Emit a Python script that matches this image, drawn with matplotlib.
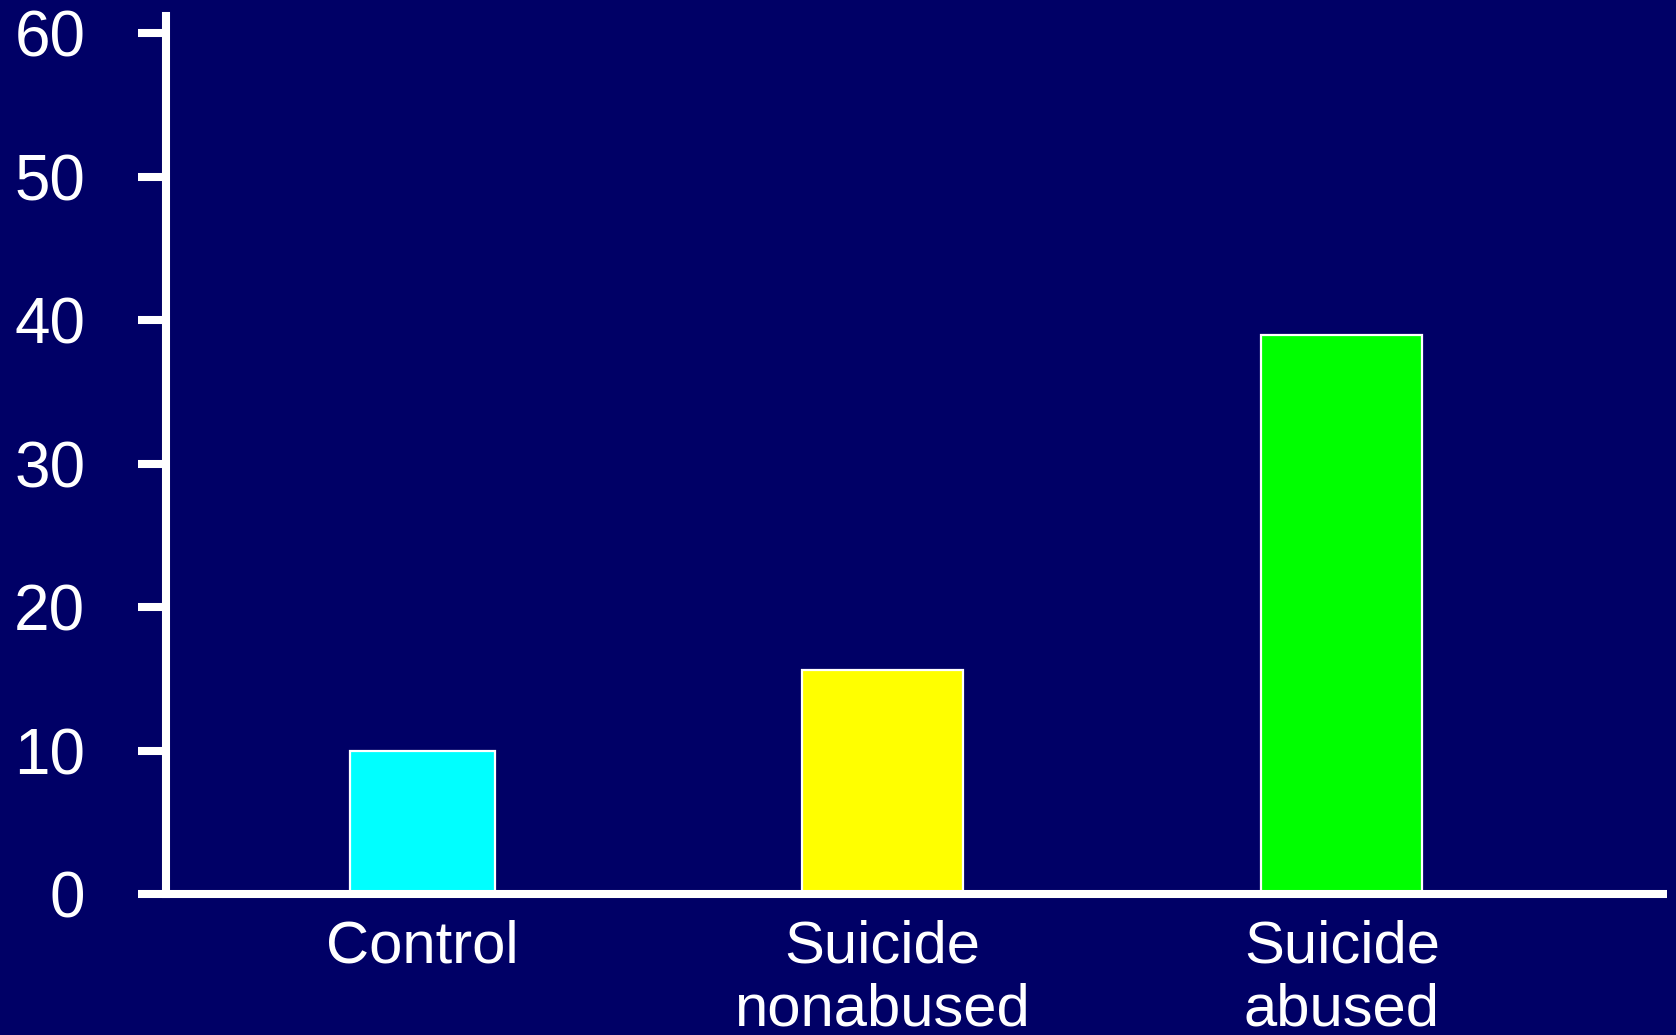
import matplotlib
matplotlib.use("Agg")
import matplotlib.pyplot as plt

# Data
categories = ["Control", "Suicide\nnonabused", "Suicide\nabused"]
values = [10.0, 15.6, 39.0]
yticks = [0, 10, 20, 30, 40, 50, 60]

# Styling
bar_colors = ["#00FFFF", "#FFFF00", "#00FF00"]
bar_widths = [0.315, 0.35, 0.35]
bg = "#000066"

plt.rcParams["font.family"] = ["Liberation Sans", "DejaVu Sans"]

fig = plt.figure(figsize=(16.76, 10.35), dpi=100, facecolor=bg)
ax = fig.add_axes([0.099, 0.1362, 0.8956, 0.8483])
ax.set_facecolor(bg)

x = list(range(len(categories)))
ax.bar(x, values, width=bar_widths, color=bar_colors,
       edgecolor="white", linewidth=1.6, zorder=3)

ax.set_xlim(-0.558, 2.707)
ax.set_ylim(0, 61.2)
ax.set_yticks(yticks)
ax.set_yticklabels([str(t) for t in yticks])
ax.set_xticks(x)
ax.set_xticklabels(categories, linespacing=1.19)

for side in ("top", "right"):
    ax.spines[side].set_visible(False)
for side in ("left", "bottom"):
    ax.spines[side].set_color("white")
    ax.spines[side].set_linewidth(5.8)
    ax.spines[side].set_zorder(4)
ax.spines["bottom"].set_capstyle("butt")

ax.tick_params(axis="y", colors="white", labelsize=46, length=20,
               width=5.8, pad=38, direction="out")
ax.tick_params(axis="x", colors="white", labelsize=43, length=0, pad=18)

fig.savefig("out.png", dpi=100, facecolor=bg)
